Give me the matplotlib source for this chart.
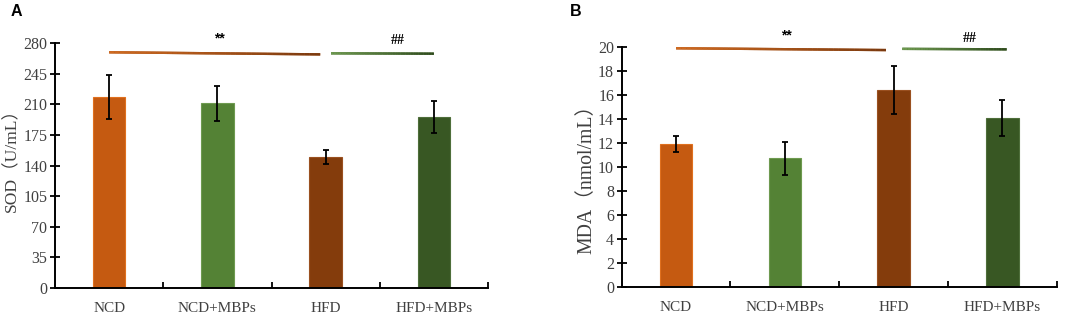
import numpy as np
import matplotlib
matplotlib.use("Agg")
import matplotlib.pyplot as plt
from matplotlib.collections import LineCollection
from matplotlib.colors import to_rgb

categories = ["NCD", "NCD+MBPs", "HFD", "HFD+MBPs"]
sod_values = [218.6, 211.0, 150.0, 195.7]
sod_errors = [25.0, 20.0, 8.0, 18.0]
mda_values = [11.9, 10.7, 16.4, 14.03]
mda_errors = [0.65, 1.4, 2.0, 1.5]
sod_ticks = [0, 35, 70, 105, 140, 175, 210, 245, 280]
mda_ticks = [0, 2, 4, 6, 8, 10, 12, 14, 16, 18, 20]

bar_colors = ["#C55A11", "#548235", "#843C0C", "#385723"]
edge_colors = ["#E0701E", "#6E9A50", "#9A5020", "#4E6E3A"]

serif = ["Liberation Serif", "Noto Sans CJK SC", "DejaVu Serif"]
plt.rcParams['font.family'] = serif

fig = plt.figure(figsize=(10.84, 3.17), dpi=100)

def gradient_line(ax, x0, y0, x1, y1, c0, c1, lw=1.7):
    a, b = np.array(to_rgb(c0)), np.array(to_rgb(c1))
    ax.plot([x0, x1], [y0, y1], color=tuple((a + b) / 2), lw=lw, clip_on=False,
            solid_capstyle='butt', zorder=4)
    n = 40
    xs = np.linspace(x0, x1, n + 1)
    ys = np.linspace(y0, y1, n + 1)
    segs = [[(xs[i], ys[i]), (xs[i + 1], ys[i + 1])] for i in range(n)]
    cols = [tuple(a + (b - a) * t) for t in np.linspace(0, 1, n)]
    lc = LineCollection(segs, colors=cols, linewidths=lw, clip_on=False,
                        capstyle='butt', zorder=5)
    ax.add_collection(lc)

def panel(rect, values, errors, ticks, ylabel, ylab_size, ylab_xy, letter, letter_pos, sig):
    ax = fig.add_axes(rect)
    x = np.arange(len(categories))
    ax.bar(x, values, width=0.3, color=bar_colors, edgecolor=edge_colors, linewidth=0.8, zorder=2)
    ax.errorbar(x, values, yerr=errors, fmt='none', ecolor='black', elinewidth=1.3,
                capsize=2.5, capthick=1.3, zorder=3)
    ax.set_xlim(-0.5, 3.5)
    ax.set_ylim(ticks[0], ticks[-1])
    ax.set_yticks(ticks)
    ax.set_xticks(x)
    ax.set_xticklabels(categories)
    ax.set_xticks([0.5, 1.5, 2.5, 3.5], minor=True)
    ax.tick_params(axis='x', which='major', length=0, pad=10, labelsize=11, labelcolor='#404040')
    ax.tick_params(axis='x', which='minor', direction='in', length=4, width=1.3)
    ax.tick_params(axis='y', direction='inout', length=7, width=1.3, labelsize=11.5,
                   labelcolor='#404040', pad=2)
    for s in ['top', 'right']:
        ax.spines[s].set_visible(False)
    for s in ['left', 'bottom']:
        ax.spines[s].set_linewidth(1.4)
    ax.set_ylabel(ylabel, fontsize=ylab_size, color='#404040')
    ax.yaxis.set_label_coords(ylab_xy[0], ylab_xy[1])
    fig.text(letter_pos[0], letter_pos[1], letter, fontsize=11.5, fontweight='bold',
             family=['Liberation Sans', 'DejaVu Sans'], ha='left', va='center')
    (l1, l2, t1, t2) = sig
    gradient_line(ax, l1[0], l1[1], l1[2], l1[3], "#D06A20", "#7A3A10")
    gradient_line(ax, l2[0], l2[1], l2[2], l2[3], "#6E9A50", "#2F4A1E")
    ax.text(t1[0], t1[1], "**", ha='center', va='center', fontsize=10, fontweight='bold',
            family=['Liberation Sans', 'DejaVu Sans'], clip_on=False)
    ax.text(t2[0], t2[1], "##", ha='center', va='center', fontsize=10, fontweight='bold',
            family=['Liberation Serif', 'DejaVu Serif'], clip_on=False)
    return ax

panel([55 / 1084, 1 - 288 / 317, 433 / 1084, 245 / 317],
      sod_values, sod_errors, sod_ticks, "SOD（U/mL）", 12.6, (-35 / 433, 0.54),
      "A", (11 / 1084, 1 - 12 / 317),
      ((0.0, 269.4, 1.95, 267.0), (2.05, 268.2, 3.0, 267.8), (1.02, 285.0), (2.67, 282.5)))

panel([621.7 / 1084, 1 - 286.7 / 317, 435 / 1084, 240 / 317],
      mda_values, mda_errors, mda_ticks, "MDA（nmol/mL）", 14.2, (-25 / 435, 0.47),
      "B", (570 / 1084, 1 - 12 / 317),
      ((0.0, 19.87, 1.93, 19.72), (2.08, 19.82, 3.04, 19.78), (1.01, 20.9), (2.7, 20.65)))

fig.savefig("out.png", dpi=100)
